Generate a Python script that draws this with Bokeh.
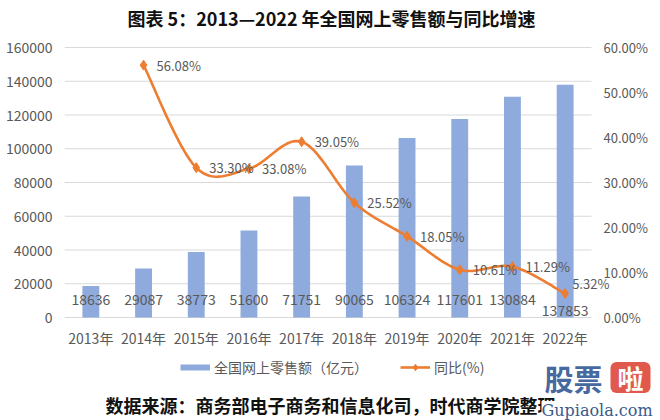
from bokeh.plotting import figure
from bokeh.models import (Range1d, FixedTicker, PrintfTickFormatter, LabelSet, Legend,
                          LegendItem, ColumnDataSource)
from bokeh.core.properties import value
from bokeh.embed import file_html
from bokeh.resources import INLINE

# ---------------- data ----------------
years = ["2013年", "2014年", "2015年", "2016年", "2017年",
         "2018年", "2019年", "2020年", "2021年", "2022年"]
sales = [18636, 29087, 38773, 51600, 71751, 90065, 106324, 117601, 130884, 137853]
growth_years = years[1:]
growth = [56.08, 33.30, 33.08, 39.05, 25.52, 18.05, 10.61, 11.29, 5.32]
sales_ticks = [0, 20000, 40000, 60000, 80000, 100000, 120000, 140000, 160000]
pct_ticks = [0, 10, 20, 30, 40, 50, 60]

title_text = "图表 5：2013—2022 年全国网上零售额与同比增速"
source_text = "数据来源：商务部电子商务和信息化司，时代商学院整理"
sales_name = "全国网上零售额（亿元）"
growth_name = "同比(%)"

# ---------------- layout constants ----------------
W, H = 660, 420
PL, PR, PT, PB = 64, 591, 47, 317      # category plotting area (canvas px)
NCAT = len(years)
YMAX = sales_ticks[-1]
PMAX = pct_ticks[-1]
XEXT = NCAT * (W - PL) / (PR - PL)
YLOW = -YMAX * (H - PB) / (PB - PT)
YTOP = YMAX * PB / (PB - PT)
PLOW = -PMAX * (H - PB) / (PB - PT)
PTOP = PMAX * PB / (PB - PT)
FONT = "Noto Sans CJK SC"
GREY = "#595959"
BLUE = "#8FAADC"
ORANGE = "#ED7D31"


def px2x(px):
    return (px - PL) / (PR - PL) * NCAT


def py2y(py):
    return (PB - py) / (PB - PT) * YMAX


p = figure(width=W, height=H, x_range=Range1d(0, XEXT), y_range=Range1d(YLOW, YTOP),
           output_backend="svg", toolbar_location=None,
           min_border_left=PL, min_border_right=0, min_border_top=0, min_border_bottom=0)
p.extra_y_ranges = {"pct": Range1d(PLOW, PTOP)}
p.outline_line_color = None
p.background_fill_color = "white"
p.border_fill_color = "white"
p.xaxis.visible = False
p.xgrid.grid_line_color = None
p.ygrid.grid_line_color = None

# ---------------- title ----------------
p.text(x=[px2x(127)], y=[py2y(17)], text=[title_text], text_align="left",
       text_baseline="middle", text_font=value(FONT), text_font_size="18px",
       text_font_style="bold", text_color="#111111")

# ---------------- left axis ----------------
p.yaxis.ticker = FixedTicker(ticks=sales_ticks)
p.yaxis.formatter = PrintfTickFormatter(format="%d")
p.yaxis.axis_line_color = None
p.yaxis.major_tick_line_color = None
p.yaxis.major_tick_out = 0
p.yaxis.minor_tick_line_color = None
p.yaxis.major_label_standoff = 12
p.yaxis.major_label_text_font = FONT
p.yaxis.major_label_text_font_size = "14px"
p.yaxis.major_label_text_color = GREY

# horizontal gridlines over the category area
p.segment(x0=[0] * len(sales_ticks), x1=[NCAT] * len(sales_ticks),
          y0=sales_ticks, y1=sales_ticks, line_color="#d9d9d9", line_width=1)

# category labels
bar_x = [i + 0.5 for i in range(NCAT)]
p.text(x=bar_x, y=[py2y(337)] * NCAT, text=years, text_align="center",
       text_baseline="middle", text_font=value(FONT), text_font_size="14px",
       text_color=GREY)

# right-hand percentage scale labels
p.text(x=[px2x(603)] * len(pct_ticks), y=pct_ticks, y_range_name="pct",
       text=[f"{t:.2f}%" for t in pct_ticks], text_align="left", text_baseline="middle",
       text_font=value(FONT), text_font_size="13px", text_color=GREY)

# ---------------- bars ----------------
bars = p.vbar(x=bar_x, top=sales, width=0.32, fill_color=BLUE, line_color=None)

bar_label_y = [py2y(299)] * (NCAT - 1) + [py2y(310)]
p.text(x=bar_x, y=bar_label_y, text=[str(v) for v in sales],
       text_align="center", text_baseline="middle",
       text_font=value(FONT), text_font_size="14px", text_color=GREY)

# ---------------- smoothed growth line (Catmull-Rom through the points) ----------------
gx = [years.index(y) + 0.5 for y in growth_years]
pts = list(zip(gx, growth))
sx, sy = [], []
n = len(pts)
for i in range(n - 1):
    p0 = pts[i - 1] if i > 0 else pts[i]
    p1 = pts[i]
    p2 = pts[i + 1]
    p3 = pts[i + 2] if i + 2 < n else pts[i + 1]
    c1 = (p1[0] + (p2[0] - p0[0]) / 6, p1[1] + (p2[1] - p0[1]) / 6)
    c2 = (p2[0] - (p3[0] - p1[0]) / 6, p2[1] - (p3[1] - p1[1]) / 6)
    steps = 24
    for k in range(steps + (1 if i == n - 2 else 0)):
        t = k / steps
        a = (1 - t) ** 3
        b = 3 * (1 - t) ** 2 * t
        c = 3 * (1 - t) * t ** 2
        d = t ** 3
        sx.append(a * p1[0] + b * c1[0] + c * c2[0] + d * p2[0])
        sy.append(a * p1[1] + b * c1[1] + c * c2[1] + d * p2[1])

line_r = p.line(sx, sy, y_range_name="pct", line_color=ORANGE, line_width=2.6)
mark_r = p.scatter(gx, growth, y_range_name="pct", marker="diamond", size=10,
                   fill_color=ORANGE, line_color=ORANGE)

dx = [13] * (len(growth) - 1) + [7]
dy = [0] * (len(growth) - 1) + [10]
pct_src = ColumnDataSource(dict(x=gx, y=growth, t=[f"{g:.2f}%" for g in growth], dx=dx, dy=dy))
p.add_layout(LabelSet(x="x", y="y", text="t", x_offset="dx", y_offset="dy", source=pct_src,
                      y_range_name="pct", text_align="left", text_baseline="middle",
                      text_font=value(FONT), text_font_size="13px", text_color=GREY))

# ---------------- legend ----------------
legend_bar = p.line(x=[bar_x[0]], y=[float("nan")], line_color=BLUE, line_width=6)
legend = Legend(items=[LegendItem(label=sales_name, renderers=[legend_bar]),
                       LegendItem(label=growth_name, renderers=[line_r, mark_r])],
                orientation="horizontal", location=(180 - PL, H - 357 - 20),
                glyph_width=30, glyph_height=16, label_height=20, label_standoff=4,
                spacing=32, padding=0, margin=0, border_line_color=None,
                background_fill_alpha=0,
                label_text_font=FONT, label_text_font_size="14px", label_text_color=GREY)
p.add_layout(legend, "center")

# ---------------- source note ----------------
p.text(x=[px2x(105)], y=[py2y(404)], text=[source_text], text_align="left",
       text_baseline="middle", text_font=value(FONT), text_font_size="18px",
       text_font_style="bold", text_color="#111111")

# ---------------- site watermark ----------------
p.rect(x=[px2x(630)], y=[py2y(377)], width=40, height=31, width_units="screen",
       height_units="screen", fill_color="#e1584c", line_color=None,
       border_radius=6)
p.text(x=[px2x(630)], y=[py2y(377)], text=["啦"], text_align="center",
       text_baseline="middle", text_font=value(FONT), text_font_size="26px",
       text_font_style="bold", text_color="white")
p.text(x=[px2x(544)], y=[py2y(377)], text=["股票"], text_align="left",
       text_baseline="middle", text_font=value(FONT), text_font_size="29px",
       text_font_style="bold", text_color="#46699f")
p.text(x=[px2x(541)], y=[py2y(410)], text=["Gupiaola.com"], text_align="left",
       text_baseline="middle", text_font=value("DejaVu Serif"), text_font_size="16px",
       text_color="#3b5a8a", background_fill_color="white")

open("out.html", "w").write(file_html(p, INLINE))
